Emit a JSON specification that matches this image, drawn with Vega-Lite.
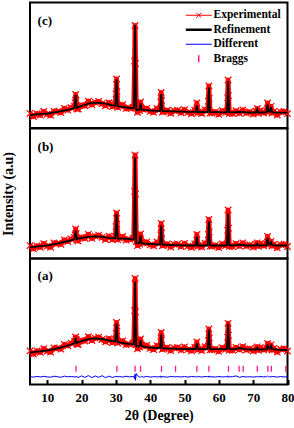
{
"$schema": "https://vega.github.io/schema/vega-lite/v6.json",
"padding": {"top": 1.5, "left": 0, "right": 0, "bottom": 0},
"spacing": 0,
"bounds": "flush",
"config": {"view": {"stroke": "black", "strokeWidth": 2}, "font": "Liberation Serif", "axis": {"grid": false}, "axisX": {"labelOverlap": false}},
"resolve": {"scale": {"color": "independent"}, "legend": {"color": "independent"}},
"datasets": {
"pc": [
{"x":5,"c":13.0,"o":14.6},{"x":6,"c":13.3,"o":11.3},{"x":7,"c":13.6,"o":14.4},{"x":8,"c":13.9,"o":12.8},{"x":9,"c":14.2,"o":16.5},{"x":10,"c":14.5,"o":13.8},{"x":11,"c":15.0,"o":12.6},{"x":12,"c":15.6,"o":16.8},{"x":13,"c":16.2,"o":16.4},{"x":14,"c":16.9,"o":15.3},{"x":15,"c":17.5,"o":19.6},{"x":16,"c":18.2,"o":17.9},{"x":17,"c":18.9,"o":20.3},{"x":19,"c":20.8,"o":19.0},{"x":20,"c":22.0,"o":22.9},{"x":21,"c":23.2,"o":22.2},{"x":22,"c":24.3,"o":26.8},{"x":23,"c":25.0,"o":23.2},{"x":24,"c":25.3,"o":25.6},{"x":25,"c":25.2,"o":26.7},{"x":26,"c":24.9,"o":24.4},{"x":27,"c":24.3,"o":22.2},{"x":28,"c":23.5,"o":25.3},{"x":29,"c":22.7,"o":21.4},{"x":31,"c":21.5,"o":22.1},{"x":32,"c":21.1,"o":23.3},{"x":33,"c":20.7,"o":19.3},{"x":34,"c":20.2,"o":20.0},{"x":35,"c":19.6,"o":20.7},{"x":36.3,"c":18.0,"o":15.7},{"x":38,"c":18.2,"o":18.7},{"x":39,"c":17.8,"o":19.7},{"x":40,"c":17.5,"o":16.6},{"x":41,"c":17.3,"o":15.6},{"x":42,"c":17.1,"o":19.5},{"x":44,"c":16.9,"o":16.5},{"x":45,"c":16.8,"o":17.8},{"x":46,"c":16.7,"o":14.7},{"x":47,"c":16.6,"o":17.3},{"x":48,"c":16.5,"o":17.8},{"x":49,"c":16.4,"o":15.2},{"x":50,"c":16.3,"o":18.3},{"x":51,"c":16.2,"o":15.6},{"x":52,"c":16.1,"o":14.2},{"x":53,"c":16.1,"o":17.8},{"x":54,"c":16.0,"o":16.1},{"x":55,"c":16.0,"o":14.5},{"x":56,"c":15.9,"o":18.2},{"x":58,"c":15.8,"o":15.0},{"x":59,"c":15.8,"o":16.2},{"x":60,"c":15.8,"o":13.6},{"x":61,"c":15.7,"o":17.3},{"x":62,"c":15.7,"o":15.6},{"x":64,"c":15.7,"o":14.5},{"x":65,"c":15.8,"o":17.3},{"x":66,"c":16.2,"o":14.7},{"x":67,"c":16.0,"o":18.1},{"x":68,"c":15.6,"o":14.9},{"x":69,"c":15.5,"o":16.3},{"x":70,"c":15.5,"o":13.9},{"x":72,"c":15.5,"o":17.4},{"x":73,"c":15.5,"o":15.0},{"x":76,"c":15.6,"o":16.6},{"x":77,"c":15.4,"o":13.0},{"x":78,"c":15.4,"o":16.2},{"x":79,"c":15.3,"o":16.7},{"x":80,"c":15.3,"o":14.3},
{"x":17.95,"c":19.9,"o":21.5},{"x":18.18,"c":26.0,"o":25.1},{"x":18.3,"c":33.0,"o":33.5},{"x":18.42,"c":26.0,"o":27.2},{"x":18.65,"c":20.2,"o":19.1},
{"x":29.85,"c":22.2,"o":23.8},{"x":30.08,"c":35.0,"o":34.0},{"x":30.2,"c":48.7,"o":49.0},{"x":30.32,"c":35.0,"o":36.4},{"x":30.55,"c":21.9,"o":20.6},
{"x":35.25,"c":19.7,"o":20.9},{"x":35.48,"c":65.0,"o":67.0},{"x":35.6,"c":103.0,"o":102.5},{"x":35.72,"c":62.0,"o":64.5},{"x":35.95,"c":18.3,"o":19.8},
{"x":36.9,"c":18.6,"o":17.5},{"x":37.2,"c":24.7,"o":26.0},{"x":37.5,"c":18.4,"o":19.2},
{"x":42.85,"c":17.1,"o":18.4},{"x":43.08,"c":26.0,"o":25.6},{"x":43.2,"c":34.0,"o":35.5},{"x":43.32,"c":26.0,"o":27.5},{"x":43.55,"c":17.0,"o":15.9},
{"x":53.3,"c":16.1,"o":17.1},{"x":53.6,"c":22.3,"o":25.0},{"x":53.9,"c":16.0,"o":15.1},
{"x":56.75,"c":16.0,"o":17.4},{"x":56.98,"c":28.0,"o":27.0},{"x":57.1,"c":40.7,"o":42.0},{"x":57.22,"c":28.0,"o":29.6},{"x":57.45,"c":15.9,"o":15.0},
{"x":62.35,"c":15.8,"o":17.1},{"x":62.58,"c":31.0,"o":30.3},{"x":62.7,"c":47.0,"o":48.0},{"x":62.82,"c":31.0,"o":32.4},{"x":63.05,"c":15.7,"o":14.5},
{"x":70.9,"c":15.6,"o":16.8},{"x":71.2,"c":18.7,"o":19.5},{"x":71.5,"c":15.5,"o":14.7},
{"x":73.9,"c":15.8,"o":16.9},{"x":74.2,"c":23.7,"o":25.0},{"x":74.5,"c":16.8,"o":16.0},{"x":74.85,"c":16.4,"o":17.7},{"x":75.2,"c":20.7,"o":21.6},{"x":75.5,"c":15.8,"o":15.0}
],
"pb": [
{"x":5,"c":11.3,"o":12.9},{"x":6,"c":11.6,"o":9.6},{"x":7,"c":11.9,"o":12.7},{"x":8,"c":12.3,"o":11.2},{"x":9,"c":12.6,"o":14.9},{"x":10,"c":13.0,"o":12.3},{"x":11,"c":13.6,"o":11.2},{"x":12,"c":14.3,"o":15.5},{"x":13,"c":15.0,"o":15.2},{"x":14,"c":15.8,"o":14.2},{"x":15,"c":16.5,"o":18.6},{"x":16,"c":17.3,"o":17.0},{"x":17,"c":18.1,"o":19.5},{"x":19,"c":19.8,"o":17.6},{"x":20,"c":20.5,"o":21.4},{"x":21,"c":21.1,"o":20.1},{"x":22,"c":21.6,"o":24.1},{"x":23,"c":21.9,"o":20.1},{"x":24,"c":22.0,"o":22.3},{"x":25,"c":21.9,"o":23.4},{"x":26,"c":21.6,"o":21.1},{"x":27,"c":21.1,"o":19.0},{"x":28,"c":20.6,"o":22.4},{"x":29,"c":20.2,"o":18.9},{"x":31,"c":19.9,"o":20.5},{"x":32,"c":19.8,"o":22.0},{"x":33,"c":19.7,"o":18.3},{"x":34,"c":19.4,"o":19.2},{"x":35,"c":19.0,"o":20.1},{"x":36.3,"c":15.2,"o":12.9},{"x":38,"c":15.0,"o":15.5},{"x":39,"c":14.7,"o":16.6},{"x":40,"c":14.5,"o":13.6},{"x":41,"c":14.3,"o":12.6},{"x":42,"c":14.1,"o":16.5},{"x":44,"c":13.8,"o":13.4},{"x":45,"c":13.6,"o":14.6},{"x":46,"c":13.5,"o":11.5},{"x":47,"c":13.4,"o":14.1},{"x":48,"c":13.3,"o":14.6},{"x":49,"c":13.2,"o":12.0},{"x":50,"c":13.1,"o":15.1},{"x":51,"c":13.0,"o":12.4},{"x":52,"c":13.0,"o":11.1},{"x":53,"c":13.0,"o":14.7},{"x":54,"c":13.0,"o":13.1},{"x":55,"c":13.0,"o":11.5},{"x":56,"c":13.0,"o":15.3},{"x":58,"c":13.0,"o":12.2},{"x":59,"c":13.0,"o":13.4},{"x":60,"c":13.0,"o":10.8},{"x":61,"c":13.0,"o":14.6},{"x":62,"c":13.0,"o":12.9},{"x":64,"c":13.0,"o":11.8},{"x":65,"c":13.3,"o":14.8},{"x":66,"c":13.8,"o":12.3},{"x":67,"c":13.5,"o":15.6},{"x":68,"c":13.0,"o":12.3},{"x":69,"c":13.0,"o":13.8},{"x":70,"c":13.0,"o":11.4},{"x":72,"c":13.0,"o":14.9},{"x":73,"c":13.1,"o":12.6},{"x":76,"c":13.2,"o":14.2},{"x":77,"c":13.0,"o":10.6},{"x":78,"c":13.0,"o":13.8},{"x":79,"c":13.0,"o":14.4},{"x":80,"c":13.0,"o":12.0},
{"x":17.95,"c":19.2,"o":20.8},{"x":18.18,"c":24.0,"o":23.1},{"x":18.3,"c":28.0,"o":29.5},{"x":18.42,"c":24.0,"o":25.2},{"x":18.65,"c":19.5,"o":18.4},
{"x":29.85,"c":20.3,"o":21.9},{"x":30.08,"c":33.0,"o":32.0},{"x":30.2,"c":44.7,"o":45.5},{"x":30.32,"c":33.0,"o":34.4},{"x":30.55,"c":20.1,"o":18.8},
{"x":35.25,"c":19.2,"o":20.4},{"x":35.48,"c":65.0,"o":67.0},{"x":35.6,"c":101.3,"o":103.5},{"x":35.72,"c":62.0,"o":64.5},{"x":35.95,"c":15.5,"o":17.0},
{"x":36.9,"c":15.6,"o":14.5},{"x":37.2,"c":23.0,"o":24.5},{"x":37.5,"c":15.2,"o":16.0},
{"x":42.85,"c":14.1,"o":15.4},{"x":43.08,"c":24.0,"o":23.6},{"x":43.2,"c":33.0,"o":35.0},{"x":43.32,"c":24.0,"o":25.5},{"x":43.55,"c":13.9,"o":12.8},
{"x":53.3,"c":13.1,"o":14.1},{"x":53.6,"c":22.0,"o":24.0},{"x":53.9,"c":13.1,"o":12.2},
{"x":56.75,"c":13.2,"o":14.6},{"x":56.98,"c":25.0,"o":24.0},{"x":57.1,"c":37.3,"o":39.0},{"x":57.22,"c":25.0,"o":26.6},{"x":57.45,"c":13.2,"o":12.3},
{"x":62.35,"c":13.2,"o":14.5},{"x":62.58,"c":29.0,"o":28.3},{"x":62.7,"c":44.7,"o":48.5},{"x":62.82,"c":29.0,"o":30.4},{"x":63.05,"c":13.2,"o":12.0},
{"x":70.9,"c":13.1,"o":14.3},{"x":71.2,"c":14.8,"o":15.6},{"x":71.5,"c":13.0,"o":12.2},
{"x":73.9,"c":13.4,"o":14.5},{"x":74.2,"c":20.7,"o":22.0},{"x":74.5,"c":14.5,"o":13.7},{"x":74.85,"c":14.0,"o":15.3},{"x":75.2,"c":16.2,"o":17.1},{"x":75.5,"c":13.3,"o":12.5}
],
"pa": [
{"x":5,"c":32.0,"o":33.6,"d":7.9},{"x":6,"c":32.4,"o":30.4,"d":7.4},{"x":7,"c":32.8,"o":33.6,"d":8.1},{"x":8,"c":33.2,"o":32.1,"d":7.5},{"x":9,"c":33.6,"o":35.9,"d":8.2},{"x":10,"c":34.0,"o":33.3,"d":7.6},{"x":11,"c":34.7,"o":32.3,"d":7.3},{"x":12,"c":35.4,"o":36.6,"d":8.3},{"x":13,"c":36.2,"o":36.4,"d":7.8},{"x":14,"c":37.0,"o":35.4,"d":7.2},{"x":15,"c":38.0,"o":40.1,"d":8.4},{"x":16,"c":39.0,"o":38.7,"d":7.7},{"x":17,"c":40.0,"o":41.4,"d":8.0},{"x":19,"c":42.2,"o":40.0,"d":7.0},{"x":20,"c":43.4,"o":44.3,"d":8.6},{"x":21,"c":44.5,"o":43.5,"d":7.1},{"x":22,"c":45.3,"o":47.8,"d":8.9},{"x":23,"c":45.8,"o":44.0,"d":6.9},{"x":24,"c":46.0,"o":46.3,"d":8.5},{"x":25,"c":45.9,"o":47.4,"d":7.2},{"x":26,"c":45.5,"o":45.0,"d":8.8},{"x":27,"c":44.8,"o":42.7,"d":6.8},{"x":28,"c":44.0,"o":45.8,"d":8.4},{"x":29,"c":43.3,"o":42.0,"d":7.0},{"x":31,"c":42.0,"o":42.6,"d":8.1},{"x":32,"c":41.5,"o":43.7,"d":7.4},{"x":33,"c":41.0,"o":39.6,"d":8.3},{"x":34,"c":40.6,"o":40.4,"d":7.6},{"x":35,"c":40.2,"o":41.3,"d":8.0},{"x":36.3,"c":38.0,"o":35.7,"d":8.8},{"x":38,"c":38.0,"o":38.5,"d":7.3},{"x":39,"c":37.4,"o":39.3,"d":8.2},{"x":40,"c":37.0,"o":36.1,"d":7.4},{"x":41,"c":36.7,"o":35.0,"d":7.9},{"x":42,"c":36.5,"o":38.9,"d":7.6},{"x":44,"c":36.2,"o":35.8,"d":7.8},{"x":45,"c":36.0,"o":37.0,"d":7.3},{"x":46,"c":35.9,"o":33.9,"d":8.1},{"x":47,"c":35.8,"o":36.5,"d":7.6},{"x":48,"c":35.7,"o":37.0,"d":7.9},{"x":49,"c":35.6,"o":34.4,"d":7.5},{"x":50,"c":35.6,"o":37.6,"d":8.0},{"x":51,"c":35.5,"o":34.9,"d":7.4},{"x":52,"c":35.5,"o":33.6,"d":8.1},{"x":53,"c":35.5,"o":37.2,"d":7.7},{"x":54,"c":35.5,"o":35.6,"d":7.9},{"x":55,"c":35.4,"o":33.9,"d":7.5},{"x":56,"c":35.4,"o":37.7,"d":8.0},{"x":58,"c":35.4,"o":34.6,"d":7.8},{"x":59,"c":35.3,"o":35.7,"d":7.4},{"x":60,"c":35.3,"o":33.1,"d":8.1},{"x":61,"c":35.3,"o":36.9,"d":7.5},{"x":62,"c":35.3,"o":35.2,"d":7.9},{"x":64,"c":35.3,"o":34.1,"d":7.8},{"x":65,"c":35.6,"o":37.1,"d":8.6},{"x":66,"c":36.3,"o":34.8,"d":7.2},{"x":67,"c":35.8,"o":37.9,"d":8.0},{"x":68,"c":35.2,"o":34.5,"d":7.5},{"x":69,"c":35.1,"o":35.9,"d":7.8},{"x":70,"c":35.0,"o":33.4,"d":7.4},{"x":72,"c":35.0,"o":36.9,"d":8.0},{"x":73,"c":35.1,"o":34.6,"d":7.6},{"x":76,"c":35.2,"o":36.2,"d":7.9},{"x":77,"c":34.8,"o":32.4,"d":7.4},{"x":78,"c":34.6,"o":35.4,"d":8.0},{"x":79,"c":34.5,"o":35.9,"d":7.5},{"x":80,"c":34.3,"o":33.3,"d":7.8},
{"x":17.95,"c":41.2,"o":42.8,"d":7.6},{"x":18.18,"c":44.0,"o":43.1,"d":8.0},{"x":18.3,"c":46.7,"o":47.5,"d":7.2},{"x":18.42,"c":44.0,"o":45.2,"d":8.2},{"x":18.65,"c":41.6,"o":40.5,"d":7.7},
{"x":29.85,"c":43.0,"o":44.6,"d":7.9},{"x":30.08,"c":52.0,"o":51.0,"d":8.3},{"x":30.2,"c":61.0,"o":62.0,"d":7.4},{"x":30.32,"c":52.0,"o":53.4,"d":8.4},{"x":30.55,"c":42.7,"o":41.4,"d":7.6},
{"x":35.25,"c":40.3,"o":41.5,"d":8.0},{"x":35.48,"c":72.0,"o":74.0,"d":5.5},{"x":35.6,"c":102.7,"o":106.0,"d":10.5},{"x":35.72,"c":70.0,"o":72.5,"d":4.2},{"x":35.95,"c":38.3,"o":40.0,"d":11.0},
{"x":36.9,"c":38.6,"o":37.5,"d":7.6},{"x":37.2,"c":44.3,"o":45.5,"d":7.4},{"x":37.5,"c":38.4,"o":39.2,"d":8.1},
{"x":42.85,"c":36.5,"o":37.8,"d":7.8},{"x":43.08,"c":43.0,"o":42.6,"d":8.5},{"x":43.2,"c":50.0,"o":52.0,"d":7.0},{"x":43.32,"c":43.0,"o":44.5,"d":8.4},{"x":43.55,"c":36.3,"o":35.2,"d":7.6},
{"x":53.3,"c":35.6,"o":36.6,"d":7.8},{"x":53.6,"c":41.0,"o":42.5,"d":7.5},{"x":53.9,"c":35.6,"o":34.7,"d":8.0},
{"x":56.75,"c":35.5,"o":36.9,"d":7.7},{"x":56.98,"c":45.0,"o":44.0,"d":8.5},{"x":57.1,"c":55.0,"o":55.5,"d":7.2},{"x":57.22,"c":45.0,"o":46.6,"d":8.6},{"x":57.45,"c":35.5,"o":34.6,"d":7.5},
{"x":62.35,"c":35.5,"o":36.8,"d":7.9},{"x":62.58,"c":48.0,"o":47.3,"d":8.4},{"x":62.7,"c":61.0,"o":61.2,"d":7.1},{"x":62.82,"c":48.0,"o":49.4,"d":8.3},{"x":63.05,"c":35.5,"o":34.3,"d":7.7},
{"x":70.9,"c":35.1,"o":36.3,"d":7.8},{"x":71.2,"c":36.8,"o":37.6,"d":8.0},{"x":71.5,"c":35.0,"o":34.2,"d":7.6},
{"x":73.9,"c":35.3,"o":36.4,"d":7.9},{"x":74.2,"c":40.0,"o":41.0,"d":8.4},{"x":74.5,"c":36.2,"o":35.4,"d":7.5},{"x":74.85,"c":35.9,"o":37.2,"d":7.9},{"x":75.2,"c":38.7,"o":39.6,"d":7.6},{"x":75.5,"c":35.3,"o":34.5,"d":8.0}
],
"braggs": [{"x":18.4},{"x":30.3},{"x":35.6},{"x":37.2},{"x":43.3},{"x":47.4},{"x":53.6},{"x":57.1},{"x":62.8},{"x":65.9},{"x":67.1},{"x":71.2},{"x":74.3},{"x":75.3},{"x":79.5}]
},
"vconcat": [
{
"width": 257.5, "height": 125.5,
"data": {"name": "pc"},
"layer": [
{"mark": {"type": "line", "strokeWidth": 5, "strokeJoin": "round"},
 "encoding": {
  "x": {"field": "x", "type": "quantitative", "scale": {"domain": [5, 80], "nice": false, "zero": false}, "axis": null},
  "y": {"field": "o", "type": "quantitative", "scale": {"domain": [0, 125.5], "nice": false}, "axis": null},
  "color": {"datum": "Experimental", "type": "nominal",
   "scale": {"domain": ["Experimental", "Refinement", "Different", "Braggs"], "range": ["#ff0000", "#000000", "#0000ff", "#ff1493"]},
   "legend": {"orient": "top-right", "offset": 7, "padding": 0, "title": null, "labelFont": "Liberation Serif", "labelFontSize": 11.5, "labelFontWeight": "bold", "labelColor": "black", "symbolSize": 196, "labelOffset": 9, "rowPadding": 1.5, "symbolStrokeWidth": 1,
    "encode": {"symbols": {"update": {
     "shape": {"signal": "datum.value === 'Experimental' ? 'M-1.85,0L1.85,0M-0.35,-0.35L0.35,0.35M0.35,-0.35L-0.35,0.35' : datum.value === 'Braggs' ? 'M0,-0.5L0,0.5' : 'M-1.85,0L1.85,0'"},
     "strokeWidth": {"signal": "datum.value === 'Refinement' ? 2.5 : datum.value === 'Braggs' ? 1.5 : 1"},
     "fill": {"value": "transparent"},
     "opacity": {"value": 1}}}}}}
 }},
{"mark": {"type": "point", "shape": "M-1,-1L1,1M1,-1L-1,1", "size": 42, "strokeWidth": 1.2, "filled": false, "opacity": 1},
 "encoding": {"x": {"field": "x", "type": "quantitative", "axis": null}, "y": {"field": "o", "type": "quantitative", "axis": null}, "color": {"datum": "Experimental", "type": "nominal"}}},
{"mark": {"type": "line", "strokeWidth": 1.8},
 "encoding": {"x": {"field": "x", "type": "quantitative", "axis": null}, "y": {"field": "c", "type": "quantitative", "axis": null}, "color": {"datum": "Refinement", "type": "nominal"}}},
{"data": {"values": [{"t": "(c)"}]},
 "mark": {"type": "text", "align": "left", "baseline": "middle", "font": "Liberation Serif", "fontSize": 13, "fontWeight": "bold", "color": "black"},
 "encoding": {"x": {"datum": 7.2, "type": "quantitative", "axis": null}, "y": {"datum": 107.5, "type": "quantitative", "axis": null}, "text": {"field": "t"}}}
]
},
{
"width": 257.5, "height": 130,
"data": {"name": "pb"},
"layer": [
{"mark": {"type": "line", "strokeWidth": 5, "strokeJoin": "round", "color": "#ff0000"},
 "encoding": {
  "x": {"field": "x", "type": "quantitative", "scale": {"domain": [5, 80], "nice": false, "zero": false}, "axis": null},
  "y": {"field": "o", "type": "quantitative", "scale": {"domain": [0, 130], "nice": false},
   "axis": {"title": "Intensity (a.u)", "labels": false, "ticks": false, "domain": false, "grid": false, "minExtent": 0, "maxExtent": 0, "titlePadding": 14.5, "titleFont": "Liberation Serif", "titleFontSize": 14, "titleFontWeight": "bold", "titleColor": "black"}}
 }},
{"mark": {"type": "point", "shape": "M-1,-1L1,1M1,-1L-1,1", "size": 42, "strokeWidth": 1.2, "filled": false, "opacity": 1, "color": "#ff0000"},
 "encoding": {"x": {"field": "x", "type": "quantitative", "axis": null}, "y": {"field": "o", "type": "quantitative"}}},
{"mark": {"type": "line", "strokeWidth": 1.8, "color": "#000000"},
 "encoding": {"x": {"field": "x", "type": "quantitative", "axis": null}, "y": {"field": "c", "type": "quantitative"}}},
{"data": {"values": [{"t": "(b)"}]},
 "mark": {"type": "text", "align": "left", "baseline": "middle", "font": "Liberation Serif", "fontSize": 13, "fontWeight": "bold", "color": "black"},
 "encoding": {"x": {"datum": 7.2, "type": "quantitative", "axis": null}, "y": {"datum": 111.3, "type": "quantitative"}, "text": {"field": "t"}}}
]
},
{
"width": 257.5, "height": 126,
"data": {"name": "pa"},
"layer": [
{
"encoding": {
 "x": {"field": "x", "type": "quantitative", "scale": {"domain": [5, 80], "nice": false, "zero": false},
  "axis": {"values": [10, 20, 30, 40, 50, 60, 70, 80], "labelOverlap": false, "tickSize": -5, "tickWidth": 2, "tickColor": "black", "domain": false, "grid": false, "labelFlush": false, "labelPadding": 12, "labelFont": "Liberation Serif", "labelFontSize": 13, "labelFontWeight": "bold", "labelColor": "black", "title": "2θ (Degree)", "titlePadding": 4, "titleFont": "Liberation Serif", "titleFontSize": 14, "titleFontWeight": "bold", "titleColor": "black"}}
},
"layer": [
{"mark": {"type": "line", "strokeWidth": 5, "strokeJoin": "round", "color": "#ff0000"},
 "encoding": {"y": {"field": "o", "type": "quantitative", "scale": {"domain": [0, 126], "nice": false}, "axis": null}}},
{"mark": {"type": "point", "shape": "M-1,-1L1,1M1,-1L-1,1", "size": 42, "strokeWidth": 1.2, "filled": false, "opacity": 1, "color": "#ff0000"},
 "encoding": {"y": {"field": "o", "type": "quantitative", "axis": null}}},
{"mark": {"type": "line", "strokeWidth": 1.8, "color": "#000000"},
 "encoding": {"y": {"field": "c", "type": "quantitative", "axis": null}}},
{"mark": {"type": "line", "strokeWidth": 1, "color": "#0000ff"},
 "encoding": {"y": {"field": "d", "type": "quantitative", "axis": null}}},
{"data": {"name": "braggs"},
 "mark": {"type": "rule", "strokeWidth": 1.3, "color": "#ff1493"},
 "encoding": {"y": {"datum": 12.7, "type": "quantitative", "axis": null}, "y2": {"datum": 18.7}}}
]
},
{"data": {"values": [{"t": "(a)"}]},
 "mark": {"type": "text", "align": "left", "baseline": "middle", "font": "Liberation Serif", "fontSize": 13, "fontWeight": "bold", "color": "black"},
 "encoding": {
  "x": {"datum": 7.2, "type": "quantitative",
   "axis": {"values": [10, 20, 30, 40, 50, 60, 70, 80], "labelOverlap": false, "tickSize": -5, "tickWidth": 2, "tickColor": "black", "domain": false, "grid": false, "labelFlush": false, "labelPadding": 12, "labelFont": "Liberation Serif", "labelFontSize": 13, "labelFontWeight": "bold", "labelColor": "black", "title": "2θ (Degree)", "titlePadding": 4, "titleFont": "Liberation Serif", "titleFontSize": 14, "titleFontWeight": "bold", "titleColor": "black"}},
  "y": {"datum": 109, "type": "quantitative", "axis": null},
  "text": {"field": "t"}}}
]
}
]
}
